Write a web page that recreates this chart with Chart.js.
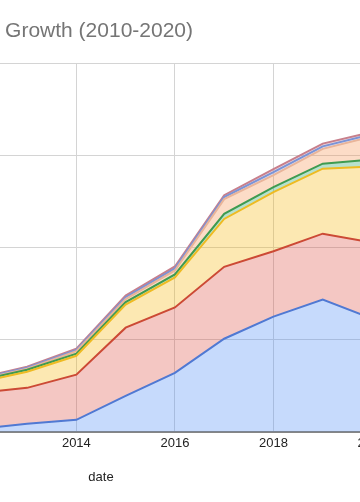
<!DOCTYPE html>
<html>
<head>
<meta charset="utf-8">
<script src="https://cdn.jsdelivr.net/npm/chart.js@4.4.0/dist/chart.umd.min.js"></script>
<style>
  html, body { margin: 0; padding: 0; background: #fff; overflow: hidden; width: 360px; height: 502px; }
  #myChart { position: absolute; left: -260px; top: 0; }
</style>
</head>
<body>
<canvas id="myChart" width="632" height="502"></canvas>
<script>
// values (stacked, bottom to top)
const years = [2010, 2011, 2012, 2013, 2014, 2015, 2016, 2017, 2018, 2019, 2020];
const productA = [15, 22, 30, 87, 130, 390, 640, 1010, 1250, 1435, 1230];
const productB = [330, 360, 390, 390, 490, 740, 710, 780, 710, 715, 825];
const productC = [80, 95, 115, 175, 205, 250, 325, 520, 640, 705, 825];
const productD = [15, 17, 20, 22, 22, 28, 33, 55, 55, 55, 75];
const productE = [6, 7, 8, 10, 27, 32, 43, 160, 130, 160, 250];
const productF = [8, 9, 10, 12, 14, 20, 22, 22, 33, 28, 24];
const productG = [7, 8, 9, 10, 13, 18, 21, 21, 32, 29, 24];
const xTicks = [2010, 2012, 2014, 2016, 2018, 2020];
const yTicks = [0, 1000, 2000, 3000, 4000];

Chart.defaults.font.family = "'Liberation Sans', Arial, sans-serif";

function series(label, values, line, fill, i) {
    return {
        label: label,
        data: years.map((y, k) => ({ x: y, y: values[k] })),
        borderColor: line,
        backgroundColor: fill,
        borderWidth: 2,
        pointRadius: 0,
        tension: 0,
        fill: i === 0 ? 'origin' : '-1',
    };
}

const ctx = document.getElementById('myChart').getContext('2d');
const myChart = new Chart(ctx, {
    type: 'line',
    data: {
        datasets: [
            series('Product A', productA, '#5079d3', 'rgba(66,133,244,0.3)', 0),
            series('Product B', productB, '#cc4a35', 'rgba(219,68,55,0.3)', 1),
            series('Product C', productC, '#eebb22', 'rgba(244,180,0,0.3)', 2),
            series('Product D', productD, '#3f9b50', 'rgba(15,157,88,0.3)', 3),
            series('Product E', productE, '#e9b499', 'rgba(245,140,70,0.3)', 4),
            series('Product F', productF, '#7b93d6', 'rgba(123,147,214,0.3)', 5),
            series('Product G', productG, '#c77f8c', 'rgba(199,127,140,0.3)', 6),
        ]
    },
    options: {
        responsive: false,
        animation: false,
        events: [],
        layout: { padding: 0 },
        scales: {
            x: {
                type: 'linear',
                min: 2009,
                max: 2020,
                afterBuildTicks: s => { s.ticks = xTicks.map(v => ({ value: v })); },
                afterFit: s => { s.paddingLeft = 0; s.paddingRight = 0; },
                ticks: {
                    color: '#222',
                    font: { size: 13 },
                    padding: 4,
                    maxRotation: 0,
                    autoSkip: false,
                    callback: v => String(v),
                },
                grid: { color: '#d4d4d4', drawTicks: false },
                border: { display: true, color: '#858585', width: 2 },
                title: {
                    display: true,
                    text: 'date',
                    color: '#222',
                    font: { size: 13 },
                    padding: { top: 14, bottom: 17 },
                },
            },
            y: {
                stacked: true,
                min: 0,
                max: 4000,
                afterBuildTicks: s => { s.ticks = yTicks.map(v => ({ value: v })); },
                afterFit: s => { s.width = 90; },
                ticks: { color: '#444', font: { size: 13 } },
                grid: { color: '#d4d4d4', drawTicks: false },
                border: { display: false },
            },
        },
        plugins: {
            legend: { display: false },
            tooltip: { enabled: false },
            title: {
                display: true,
                text: 'Net Product Sales Growth (2010-2020)',
                align: 'start',
                fullSize: false,
                color: '#757575',
                font: { size: 21, weight: 'normal' },
                padding: { top: 19, bottom: 19 },
            },
        }
    }
});
</script>
</body>
</html>
